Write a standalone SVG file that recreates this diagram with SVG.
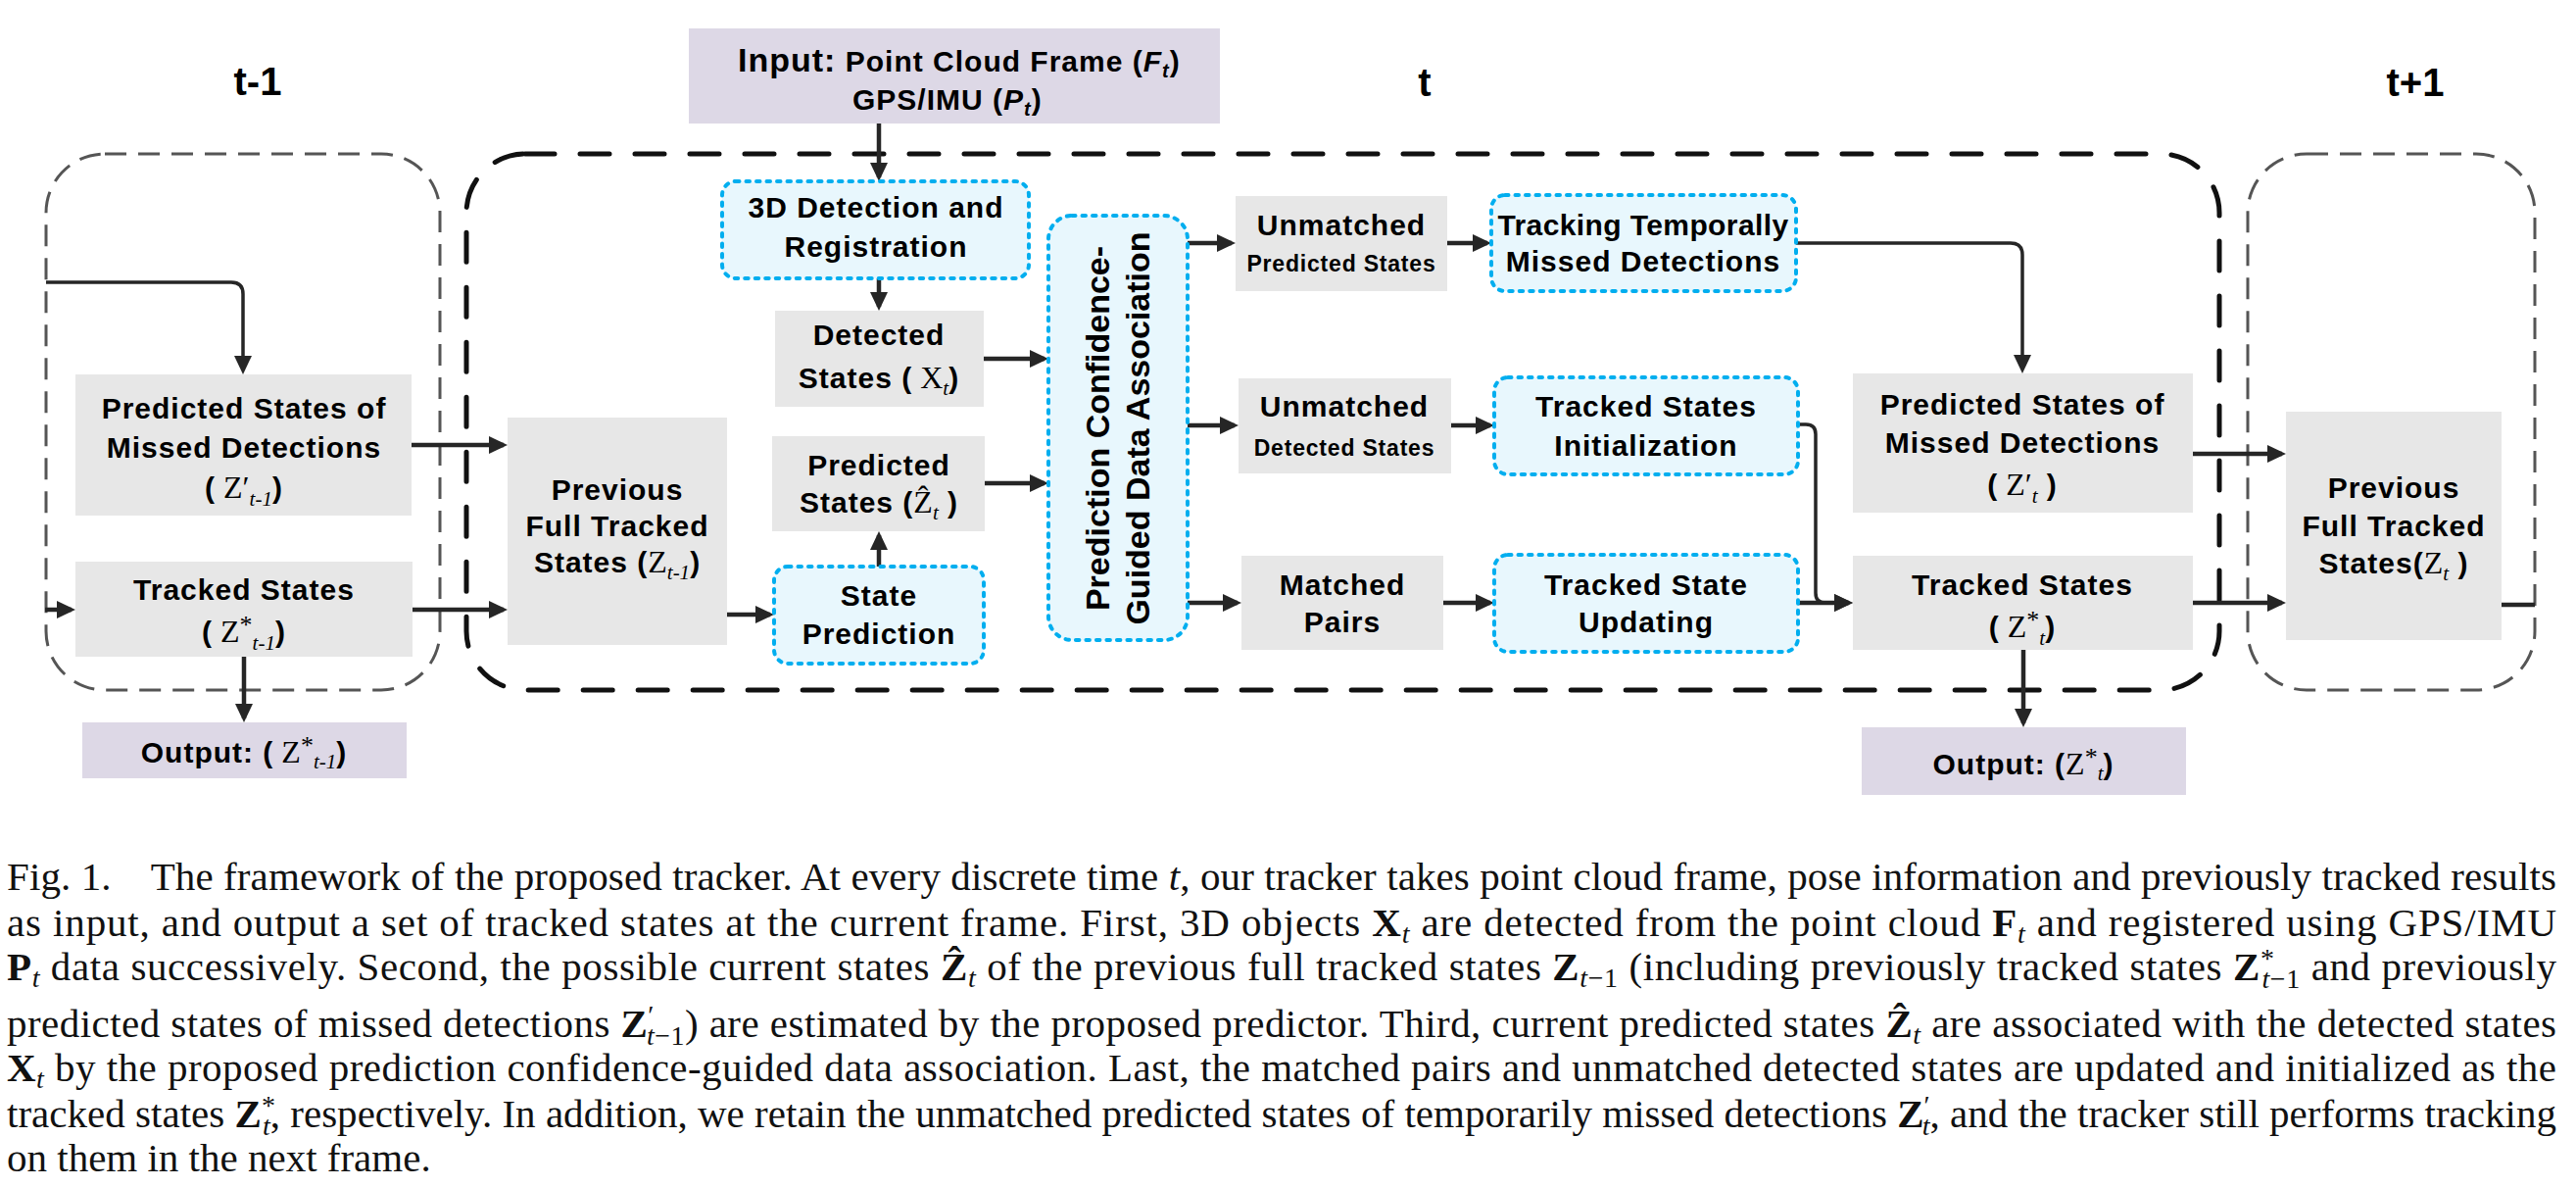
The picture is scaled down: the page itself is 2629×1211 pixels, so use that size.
<svg xmlns="http://www.w3.org/2000/svg" width="2629" height="1211" viewBox="0 0 2629 1211">
<style>
.lbl{font-family:"Liberation Sans",Arial,sans-serif;font-weight:bold;font-size:30px;letter-spacing:1px;fill:#000;text-anchor:middle}
.sm{font-size:23px;letter-spacing:0.8px}
.m{font-family:"Liberation Serif","Times New Roman",serif;font-weight:normal;font-size:32px;letter-spacing:0}
.mi{font-family:"Liberation Serif","Times New Roman",serif;font-style:italic;font-weight:normal;font-size:21px;letter-spacing:0}
.ttl{font-family:"Liberation Sans",Arial,sans-serif;font-weight:bold;font-size:40px;fill:#000;text-anchor:middle}
.rot{font-family:"Liberation Sans",Arial,sans-serif;font-weight:bold;font-size:34px;fill:#000;text-anchor:middle}
.gray{fill:#E7E7E7}
.lav{fill:#DDD8E6}
.blue{fill:#E8F7FD;stroke:#00AEEF;stroke-width:4;stroke-dasharray:3.5 7;stroke-linecap:round}
.frame{fill:none;stroke:#111;stroke-width:5;stroke-dasharray:30 26;stroke-linecap:round}
.tframe{fill:none;stroke:#555;stroke-width:3;stroke-dasharray:22 12}
.ar{fill:none;stroke:#262626;stroke-width:4.5;marker-end:url(#ah)}
.cv{fill:none;stroke:#262626;stroke-width:3.5}
.cap{font-family:"Liberation Serif","Times New Roman",serif;font-size:41px;fill:#111}
.b{font-weight:bold}
.i{font-style:italic}
.s{font-size:28px}
</style>
<defs>
<marker id="ah" markerUnits="userSpaceOnUse" markerWidth="20" markerHeight="18" refX="15" refY="9" orient="auto"><path d="M0,0 L19,9 L0,18 z" fill="#262626"/></marker>
</defs>

<g id="frames">
<rect class="tframe" x="47" y="157" width="402" height="547" rx="60"/>
<rect class="frame" x="476" y="157" width="1789" height="547" rx="60"/>
<rect class="tframe" x="2294" y="157" width="293" height="547" rx="60"/>
<text class="ttl" x="263" y="97">t-1</text>
<text class="ttl" x="1454" y="98">t</text>
<text class="ttl" x="2465" y="98">t+1</text>
</g>

<g id="connectors">
<path class="ar" d="M46,622 H73"/>
<path class="ar" d="M420,454 H514"/>
<path class="ar" d="M421,622 H514"/>
<path class="ar" d="M742,627 H786"/>
<path class="ar" d="M1004,366 H1066"/>
<path class="ar" d="M1005,493 H1066"/>
<path class="ar" d="M1212,248 H1257"/>
<path class="ar" d="M1212,434 H1260"/>
<path class="ar" d="M1212,615 H1263"/>
<path class="ar" d="M1477,248 H1518"/>
<path class="ar" d="M1481,434 H1521"/>
<path class="ar" d="M1473,615 H1521"/>
<path class="ar" d="M1835,615 H1887"/>
<path class="ar" d="M2238,463 H2329"/>
<path class="ar" d="M2238,615 H2329"/>
<path class="ar" d="M2553,617 H2587" style="marker-end:none"/>
<path class="ar" d="M897,126 V181"/>
<path class="ar" d="M897,284 V313"/>
<path class="ar" d="M249,670 V733"/>
<path class="ar" d="M2065,663 V738"/>
<path class="ar" d="M897,578 V546"/>
<path class="cv" d="M47,288 H236 Q248,288 248,300 V378" marker-end="url(#ah)"/>
<path class="cv" d="M1833,248 H2052 Q2064,248 2064,260 V377" marker-end="url(#ah)"/>
<path class="cv" d="M1835,433 H1843 Q1853,433 1853,443 V605 Q1853,615 1863,615 H1887" marker-end="url(#ah)"/>
</g>

<g id="input">
<rect class="lav" x="703" y="29" width="542" height="97"/>
<text class="lbl" x="753" y="73" style="text-anchor:start;font-size:34px">Input:<tspan style="font-size:30px"> Point Cloud Frame (</tspan><tspan style="font-size:30px;font-style:italic">F</tspan><tspan style="font-size:20px;font-style:italic" dy="6">t</tspan><tspan style="font-size:30px" dy="-6">)</tspan></text>
<text class="lbl" x="870" y="112" style="text-anchor:start">GPS/IMU (<tspan style="font-style:italic">P</tspan><tspan style="font-size:20px;font-style:italic" dy="6">t</tspan><tspan dy="-6">)</tspan></text>
</g>

<g id="pred-missed-prev">
<rect class="gray" x="77" y="382" width="343" height="144"/>
<text class="lbl" x="249" y="427">Predicted States of</text>
<text class="lbl" x="249" y="467">Missed Detections</text>
<text class="lbl" x="249" y="508">(<tspan class="m"> Z′</tspan><tspan class="mi" dy="8">t-1</tspan><tspan dy="-8">)</tspan></text>
</g>

<g id="tracked-prev">
<rect class="gray" x="77" y="573" width="344" height="97"/>
<text class="lbl" x="249" y="612">Tracked States</text>
<text class="lbl" x="249" y="655">(<tspan class="m"> Z</tspan><tspan class="m" dy="-9" style="font-size:26px">*</tspan><tspan class="mi" dy="17">t-1</tspan><tspan dy="-8">)</tspan></text>
</g>

<g id="output-prev">
<rect class="lav" x="84" y="737" width="331" height="57"/>
<text class="lbl" x="249" y="778">Output: (<tspan class="m"> Z</tspan><tspan class="m" dy="-9" style="font-size:26px">*</tspan><tspan class="mi" dy="15">t-1</tspan><tspan dy="-6">)</tspan></text>
</g>

<g id="prev-full">
<rect class="gray" x="518" y="426" width="224" height="232"/>
<text class="lbl" x="630" y="510">Previous</text>
<text class="lbl" x="630" y="547">Full Tracked</text>
<text class="lbl" x="630" y="584">States (<tspan class="m">Z</tspan><tspan class="mi" dy="7">t-1</tspan><tspan dy="-7">)</tspan></text>
</g>

<g id="detection">
<rect class="blue" x="737" y="185" width="313" height="99" rx="14"/>
<text class="lbl" x="894" y="222">3D Detection and</text>
<text class="lbl" x="894" y="262">Registration</text>
</g>

<g id="detected">
<rect class="gray" x="791" y="317" width="213" height="98"/>
<text class="lbl" x="897" y="352">Detected</text>
<text class="lbl" x="897" y="396">States (<tspan class="m"> X</tspan><tspan class="mi" dy="7">t</tspan><tspan dy="-7">)</tspan></text>
</g>

<g id="predicted">
<rect class="gray" x="788" y="445" width="217" height="97"/>
<text class="lbl" x="897" y="485">Predicted</text>
<text class="lbl" x="897" y="523">States (<tspan class="m">Ẑ</tspan><tspan class="mi" dy="7">t</tspan><tspan dy="-7"> )</tspan></text>
</g>

<g id="state-prediction">
<rect class="blue" x="790" y="578" width="214" height="99" rx="14"/>
<text class="lbl" x="897" y="618">State</text>
<text class="lbl" x="897" y="657">Prediction</text>
</g>

<g id="association">
<rect class="blue" x="1070" y="220" width="142" height="433" rx="24"/>
<text class="rot" transform="translate(1132,437) rotate(-90)">Prediction Confidence-</text>
<text class="rot" transform="translate(1173,437) rotate(-90)">Guided Data Association</text>
</g>

<g id="unmatched-pred">
<rect class="gray" x="1261" y="200" width="216" height="97"/>
<text class="lbl" x="1369" y="240">Unmatched</text>
<text class="lbl sm" x="1369" y="277">Predicted States</text>
</g>

<g id="unmatched-det">
<rect class="gray" x="1264" y="386" width="217" height="97"/>
<text class="lbl" x="1372" y="425">Unmatched</text>
<text class="lbl sm" x="1372" y="465">Detected States</text>
</g>

<g id="matched">
<rect class="gray" x="1267" y="567" width="206" height="96"/>
<text class="lbl" x="1370" y="607">Matched</text>
<text class="lbl" x="1370" y="645">Pairs</text>
</g>

<g id="tracking-missed">
<rect class="blue" x="1522" y="199" width="311" height="98" rx="14"/>
<text class="lbl" x="1677" y="240" style="letter-spacing:0.4px">Tracking Temporally</text>
<text class="lbl" x="1677" y="277">Missed Detections</text>
</g>

<g id="init">
<rect class="blue" x="1525" y="385" width="310" height="99" rx="14"/>
<text class="lbl" x="1680" y="425">Tracked States</text>
<text class="lbl" x="1680" y="465">Initialization</text>
</g>

<g id="updating">
<rect class="blue" x="1525" y="566" width="310" height="99" rx="14"/>
<text class="lbl" x="1680" y="607">Tracked State</text>
<text class="lbl" x="1680" y="645">Updating</text>
</g>

<g id="pred-missed-cur">
<rect class="gray" x="1891" y="381" width="347" height="142"/>
<text class="lbl" x="2064" y="423">Predicted States of</text>
<text class="lbl" x="2064" y="462">Missed Detections</text>
<text class="lbl" x="2064" y="505">(<tspan class="m"> Z′</tspan><tspan class="mi" dy="8">t</tspan><tspan dy="-8"> )</tspan></text>
</g>

<g id="tracked-cur">
<rect class="gray" x="1891" y="567" width="347" height="96"/>
<text class="lbl" x="2064" y="607">Tracked States</text>
<text class="lbl" x="2064" y="650">(<tspan class="m"> Z</tspan><tspan class="m" dy="-9" style="font-size:26px">*</tspan><tspan class="mi" dy="17">t</tspan><tspan dy="-8">)</tspan></text>
</g>

<g id="output-cur">
<rect class="lav" x="1900" y="742" width="331" height="69"/>
<text class="lbl" x="2065" y="790">Output: (<tspan class="m">Z</tspan><tspan class="m" dy="-9" style="font-size:26px">*</tspan><tspan class="mi" dy="15">t</tspan><tspan dy="-6">)</tspan></text>
</g>

<g id="prev-full-next">
<rect class="gray" x="2333" y="420" width="220" height="233"/>
<text class="lbl" x="2443" y="508">Previous</text>
<text class="lbl" x="2443" y="547">Full Tracked</text>
<text class="lbl" x="2443" y="585">States(<tspan class="m">Z</tspan><tspan class="mi" dy="7">t</tspan><tspan dy="-7"> )</tspan></text>
</g>

<g id="caption">
<text class="cap" x="7" y="908" textLength="2602" lengthAdjust="spacing">Fig. 1.<tspan dx="40">The framework of the proposed tracker. At every discrete time </tspan><tspan class="i">t</tspan>, our tracker takes point cloud frame, pose information and previously tracked results</text>
<text class="cap" x="7" y="955" textLength="2602" lengthAdjust="spacing">as input, and output a set of tracked states at the current frame. First, 3D objects <tspan class="b">X</tspan><tspan class="i s" dy="7">t</tspan><tspan dy="-7"> are detected from the point cloud </tspan><tspan class="b">F</tspan><tspan class="i s" dy="7">t</tspan><tspan dy="-7"> and registered using GPS/IMU</tspan></text>
<text class="cap" x="7" y="1000" textLength="2602" lengthAdjust="spacing"><tspan class="b">P</tspan><tspan class="i s" dy="7">t</tspan><tspan dy="-7"> data successively. Second, the possible current states </tspan><tspan class="b">Ẑ</tspan><tspan class="i s" dy="7">t</tspan><tspan dy="-7"> of the previous full tracked states </tspan><tspan class="b">Z</tspan><tspan class="s" dy="7"><tspan class="i">t</tspan>−1</tspan><tspan dy="-7"> (including previously tracked states </tspan><tspan class="b">Z</tspan><tspan class="s" dy="-13">*</tspan><tspan class="s" dx="-13" dy="21"><tspan class="i">t</tspan>−1</tspan><tspan dy="-8"> and previously</tspan></text>
<text class="cap" x="7" y="1058" textLength="2602" lengthAdjust="spacing">predicted states of missed detections <tspan class="b">Z</tspan><tspan class="s" dy="-13">′</tspan><tspan class="s" dx="-8" dy="21"><tspan class="i">t</tspan>−1</tspan><tspan dy="-8">) are estimated by the proposed predictor. Third, current predicted states </tspan><tspan class="b">Ẑ</tspan><tspan class="i s" dy="7">t</tspan><tspan dy="-7"> are associated with the detected states</tspan></text>
<text class="cap" x="7" y="1103" textLength="2602" lengthAdjust="spacing"><tspan class="b">X</tspan><tspan class="i s" dy="7">t</tspan><tspan dy="-7"> by the proposed prediction confidence-guided data association. Last, the matched pairs and unmatched detected states are updated and initialized as the</tspan></text>
<text class="cap" x="7" y="1150" textLength="2602" lengthAdjust="spacing">tracked states <tspan class="b">Z</tspan><tspan class="s" dy="-13">*</tspan><tspan class="i s" dx="-13" dy="21">t</tspan><tspan dy="-8">, respectively. In addition, we retain the unmatched predicted states of temporarily missed detections </tspan><tspan class="b">Z</tspan><tspan class="s" dy="-13">′</tspan><tspan class="i s" dx="-8" dy="21">t</tspan><tspan dy="-8">, and the tracker still performs tracking</tspan></text>
<text class="cap" x="7" y="1195">on them in the next frame.</text>
</g>
</svg>
